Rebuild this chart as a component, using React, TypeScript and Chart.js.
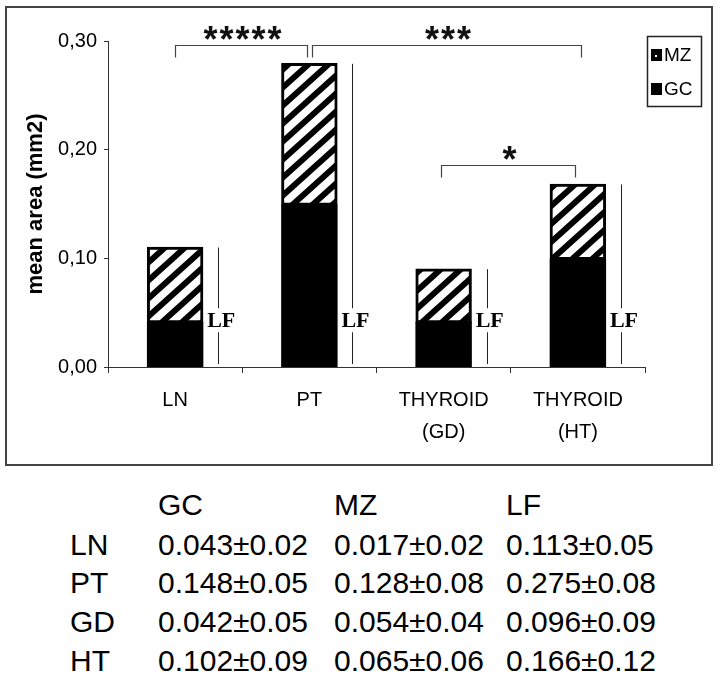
import React, { useEffect, useRef } from "react";
import { Chart, registerables } from "chart.js";

Chart.register(...registerables);

// ---------- data ----------
const categories = [["LN"], ["PT"], ["THYROID", "(GD)"], ["THYROID", "(HT)"]];
const gcValues = [0.041, 0.149, 0.041, 0.099];
const mzValues = [0.069, 0.130, 0.049, 0.069];
const lfValues = [0.110, 0.279, 0.090, 0.168];
const yTickValues = [0, 0.1, 0.2, 0.3];
const sigFrom = [0, 1, 2];
const sigTo = [1, 3, 3];
const sigLevel = [0.296, 0.296, 0.186];
const sigLabels = ["*****", "***", "*"];

const tableColumns = ["GC", "MZ", "LF"];
const tableRows = ["LN", "PT", "GD", "HT"];
const gcTable = ["0.043±0.02", "0.148±0.05", "0.042±0.05", "0.102±0.09"];
const mzTable = ["0.017±0.02", "0.128±0.08", "0.054±0.04", "0.065±0.06"];
const lfTable = ["0.113±0.05", "0.275±0.08", "0.096±0.09", "0.166±0.12"];

// ---------- styles ----------
const SANS = "'Liberation Sans', Arial, Helvetica, sans-serif";
const SERIF = "'Liberation Serif', 'Times New Roman', serif";
const AXIS_COLOR = "#333";
const LF_LABEL_VALUE = 0.043;
const BRACKET_INSETS = [[0, -2], [3, 3], [-2.5, -3]];

function makeHatch(): CanvasPattern | string {
  const w = 20;
  const h = 18;
  const c = document.createElement("canvas");
  c.width = w;
  c.height = h;
  const g = c.getContext("2d");
  if (!g) return "#888";
  g.fillStyle = "#fff";
  g.fillRect(0, 0, w, h);
  g.strokeStyle = "#000";
  g.lineWidth = 6;
  for (const k of [-1, 0, 1]) {
    g.beginPath();
    g.moveTo(k * w - w, 2 * h);
    g.lineTo(k * w + 2 * w, -h);
    g.stroke();
  }
  return g.createPattern(c, "repeat") || "#888";
}

const overlayPlugin = {
  id: "overlay",
  afterDatasetsDraw(chart: any) {
    const ctx: CanvasRenderingContext2D = chart.ctx;
    const xs = chart.scales.x;
    const ys = chart.scales.y;
    const y0 = ys.getPixelForValue(0);
    ctx.save();

    // LF lines + labels
    lfValues.forEach((v, i) => {
      const cx = xs.getPixelForValue(i);
      const lx = Math.round(cx + 43) + 0.5;
      ctx.strokeStyle = "#222";
      ctx.lineWidth = 1;
      ctx.beginPath();
      ctx.moveTo(lx, ys.getPixelForValue(v));
      ctx.lineTo(lx, y0 - 3);
      ctx.stroke();

      ctx.font = `bold 22px ${SERIF}`;
      ctx.textAlign = "left";
      ctx.textBaseline = "middle";
      const ty = ys.getPixelForValue(LF_LABEL_VALUE);
      const tx = cx + 32;
      const w = ctx.measureText("LF").width;
      ctx.fillStyle = "#fff";
      ctx.fillRect(tx - 1, ty - 12, w + 2, 24);
      ctx.fillStyle = "#000";
      ctx.fillText("LF", tx, ty + 1);
    });

    // significance brackets
    sigFrom.forEach((f, k) => {
      const t = sigTo[k];
      const x1 = Math.round(xs.getPixelForValue(f) + BRACKET_INSETS[k][0]) + 0.5;
      const x2 = Math.round(xs.getPixelForValue(t) + BRACKET_INSETS[k][1]) + 0.5;
      const ly = Math.round(ys.getPixelForValue(sigLevel[k])) + 0.5;
      ctx.strokeStyle = "#444";
      ctx.lineWidth = 1.2;
      ctx.beginPath();
      ctx.moveTo(x1, ly + 12);
      ctx.lineTo(x1, ly);
      ctx.lineTo(x2, ly);
      ctx.lineTo(x2, ly + 12);
      ctx.stroke();

      ctx.font = `bold 36px ${SANS}`;
      (ctx as any).letterSpacing = "2px";
      ctx.textAlign = "center";
      ctx.textBaseline = "alphabetic";
      const m = ctx.measureText(sigLabels[k]);
      const target = ly - 13;
      const base = target + (m.actualBoundingBoxAscent - m.actualBoundingBoxDescent) / 2;
      ctx.fillStyle = "#111";
      ctx.fillText(sigLabels[k], (x1 + x2) / 2 + 2, base);
      (ctx as any).letterSpacing = "0px";
    });
    ctx.restore();
  },
  afterDraw(chart: any) {
    const ctx: CanvasRenderingContext2D = chart.ctx;
    ctx.save();
    // legend box
    ctx.strokeStyle = "#222";
    ctx.lineWidth = 1.5;
    ctx.strokeRect(647.5, 36.5, 54, 70);
    const items = [...chart.data.datasets].reverse();
    items.forEach((ds: any, i: number) => {
      const cy = 55 + i * 34;
      ctx.fillStyle = "#000";
      ctx.fillRect(651, cy - 6, 11, 12);
      if (ds.label === "MZ") {
        ctx.fillStyle = "#fff";
        ctx.fillRect(655, cy, 2, 2);
      }
      ctx.fillStyle = "#000";
      ctx.font = `19px ${SANS}`;
      ctx.textAlign = "left";
      ctx.textBaseline = "middle";
      ctx.fillText(ds.label, 664, cy + 1);
    });
    // outer frame
    ctx.strokeStyle = "#444";
    ctx.lineWidth = 2;
    ctx.strokeRect(6, 7, 706, 458);
    ctx.restore();
  },
};

function App() {
  const canvasRef = useRef<HTMLCanvasElement | null>(null);

  useEffect(() => {
    const canvas = canvasRef.current;
    if (!canvas) return;
    const hatch = makeHatch();
    const chart = new Chart(canvas, {
      type: "bar",
      data: {
        labels: categories,
        datasets: [
          {
            label: "GC",
            data: gcValues,
            backgroundColor: "#000",
            borderWidth: 0,
            inflateAmount: 0.7,
          },
          {
            label: "MZ",
            data: mzValues,
            backgroundColor: hatch as any,
            borderColor: "#000",
            borderWidth: 3,
            borderSkipped: false,
            inflateAmount: 0.7,
          },
        ],
      },
      options: {
        responsive: false,
        animation: false,
        devicePixelRatio: 1,
        layout: { padding: { left: 0, right: 75, top: 41, bottom: 0 } },
        datasets: { bar: { categoryPercentage: 1, barPercentage: 0.41 } },
        plugins: { legend: { display: false }, tooltip: { enabled: false } },
        scales: {
          x: {
            stacked: true,
            offset: true,
            grid: {
              offset: true,
              drawOnChartArea: false,
              drawTicks: true,
              tickLength: 6,
              color: AXIS_COLOR,
              lineWidth: 1,
            },
            border: { display: true, color: AXIS_COLOR, width: 1 },
            ticks: {
              color: "#000",
              font: { family: SANS, size: 20, lineHeight: 1.6 },
              padding: 11,
              maxRotation: 0,
              autoSkip: false,
            },
            afterFit: (s: any) => {
              s.height = 103;
            },
          },
          y: {
            stacked: true,
            min: 0,
            max: 0.3,
            afterBuildTicks: (s: any) => {
              s.ticks = yTickValues.map((v) => ({ value: v }));
            },
            ticks: {
              color: "#000",
              font: { family: SANS, size: 20 },
              padding: 7,
              callback: (v: any) => Number(v).toFixed(2).replace(".", ","),
            },
            grid: {
              drawOnChartArea: false,
              drawTicks: true,
              tickLength: 4,
              color: AXIS_COLOR,
            },
            border: { display: true, color: AXIS_COLOR, width: 1 },
            title: {
              display: true,
              text: "mean area (mm2)",
              color: "#000",
              font: { family: SANS, size: 22, weight: "bold" },
              padding: { top: 23, bottom: 0 },
            },
            afterFit: (s: any) => {
              s.width = 108;
            },
          },
        },
      } as any,
      plugins: [overlayPlugin],
    });
    return () => chart.destroy();
  }, []);

  const colX = [158, 334, 506];
  const rowLabelX = 70;
  const headerY = 505;
  const rowY = [545, 583, 622, 661];
  const columns = [gcTable, mzTable, lfTable];
  const cellStyle = (left: number, cy: number): React.CSSProperties => ({
    position: "absolute",
    left,
    top: cy - 18,
    height: 36,
    lineHeight: "36px",
    fontFamily: SANS,
    fontSize: 30,
    color: "#000",
    whiteSpace: "nowrap",
  });

  return (
    <div
      style={{
        position: "absolute",
        left: 0,
        top: 0,
        width: 720,
        height: 681,
        background: "#fff",
        overflow: "hidden",
      }}
    >
      <canvas
        ref={canvasRef}
        width={720}
        height={470}
        style={{ position: "absolute", left: 0, top: 0, width: 720, height: 470 }}
      />
      {tableColumns.map((c, j) => (
        <div key={"h" + c} style={cellStyle(colX[j], headerY)}>
          {c}
        </div>
      ))}
      {tableRows.map((r, i) => (
        <React.Fragment key={r}>
          <div style={cellStyle(rowLabelX, rowY[i])}>{r}</div>
          {columns.map((col, j) => (
            <div key={r + j} style={cellStyle(colX[j], rowY[i])}>
              {col[i]}
            </div>
          ))}
        </React.Fragment>
      ))}
    </div>
  );
}

export default App;
